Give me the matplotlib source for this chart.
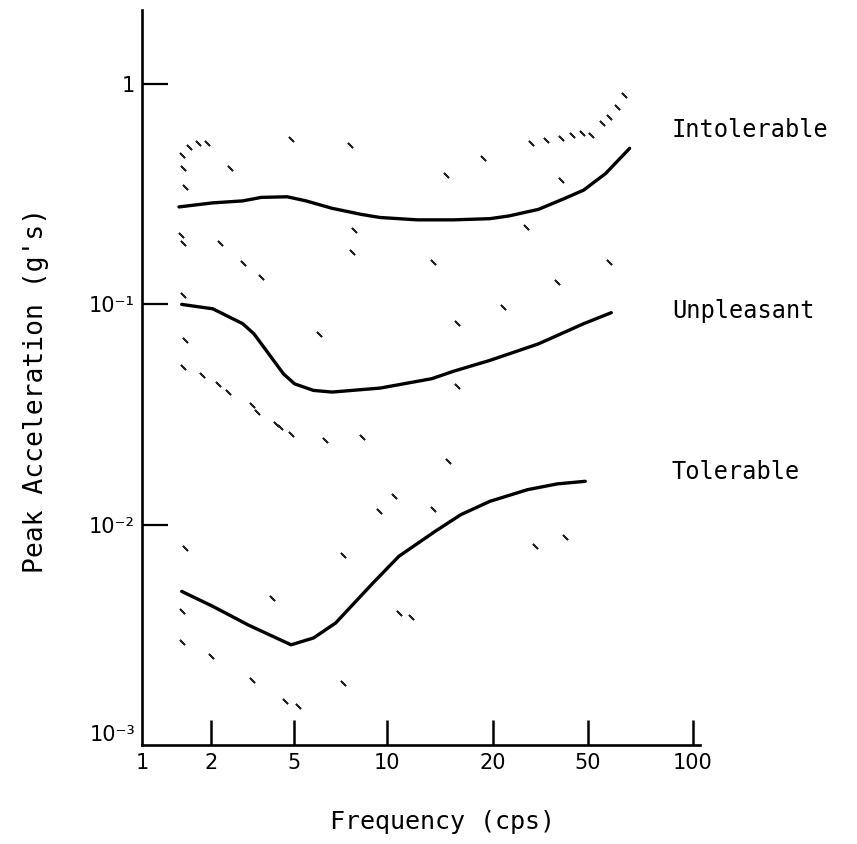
import numpy as np
import matplotlib
matplotlib.use("Agg")
import matplotlib.pyplot as plt
from matplotlib.ticker import FixedLocator, FixedFormatter, NullLocator

# ---------------- data ----------------
x_ticks = [1, 2, 5, 10, 20, 50, 100]
x_tick_labels = ["1", "2", "5", "10", "20", "50", "100"]
y_ticks = [1e-3, 1e-2, 1e-1, 1]
y_tick_labels = ["10\u207b\u00b3", "10\u207b\u00b2", "10\u207b\u00b9", "1"]

# solid curves (frequency cps, peak acceleration g)
intol_f = [1.45, 2.04, 2.84, 3.48, 4.64, 5.47, 6.64, 8.28, 9.5, 12.2, 15.5, 19.6, 23.3, 31, 40, 47.9, 56.2, 65.8]
intol_a = [0.277, 0.289, 0.295, 0.306, 0.308, 0.295, 0.273, 0.256, 0.248, 0.242, 0.242, 0.245, 0.252, 0.270, 0.303, 0.330, 0.393, 0.511]

unpl_f = [1.49, 2.04, 2.84, 3.21, 3.78, 4.45, 5.02, 5.78, 6.64, 9.5, 13.4, 15.5, 19.6, 31, 47.9, 58.3]
unpl_a = [0.100, 0.0955, 0.0817, 0.0736, 0.0597, 0.0484, 0.0436, 0.0407, 0.0400, 0.0417, 0.0460, 0.0498, 0.0557, 0.0662, 0.0817, 0.0917]

tol_f = [1.49, 2.04, 3.01, 4.84, 5.78, 6.82, 9.0, 10.8, 13.7, 16.2, 19.6, 27.9, 37.2, 48.7]
tol_a = [0.00498, 0.00426, 0.00351, 0.00285, 0.00306, 0.00358, 0.00543, 0.00718, 0.00933, 0.0111, 0.01277, 0.01442, 0.01532, 0.01574]

# scattered individual observations
obs_f = [1.50, 1.60, 1.76, 1.93, 1.51, 1.54, 2.46, 4.84, 7.6, 18.7, 14.7,
         28.9, 33.4, 38.6, 43, 47.1, 50.9, 54.8, 57.5, 60.4, 63.4,
         1.48, 1.51, 2.22, 2.84, 3.48, 7.8, 7.7, 13.5, 27.4, 38.6, 57.5,
         1.51, 1.54, 1.51, 1.82, 2.17, 2.41, 3.14, 3.34, 4.1, 4.27, 4.84, 6.28, 8.28,
         6.02, 15.8, 22, 37, 15.8,
         1.54, 1.49, 1.50, 2.0, 3.14, 3.94, 4.55, 5.16, 7.2, 7.2, 9.4, 10.5,
         10.8, 11.7, 13.5, 14.9, 30, 40]
obs_a = [0.477, 0.519, 0.538, 0.538, 0.414, 0.342, 0.414, 0.561, 0.528, 0.460, 0.386,
         0.538, 0.557, 0.567, 0.587, 0.597, 0.587, 0.663, 0.711, 0.789, 0.891,
         0.206, 0.189, 0.189, 0.154, 0.133, 0.217, 0.173, 0.156, 0.225, 0.366, 0.156,
         0.110, 0.0687, 0.052, 0.0477, 0.0437, 0.040, 0.0348, 0.0325, 0.0287, 0.0277, 0.0259, 0.0242, 0.025,
         0.0736, 0.0823, 0.0973, 0.126, 0.0428,
         0.0078, 0.00405, 0.00292, 0.00254, 0.00198, 0.00465, 0.00158, 0.0015, 0.00731, 0.00191, 0.0115, 0.01346,
         0.00397, 0.00381, 0.01178, 0.01936, 0.00803, 0.00877]

curve_names = ["Intolerable", "Unpleasant", "Tolerable"]

# ---------------- hand-drawn (non-uniform) frequency scale ----------------
_knot_log = np.array([-1.0, 0.0, np.log10(2), np.log10(5), 1.0, np.log10(20), np.log10(50), 2.0, 3.0])
_knot_pos = np.array([-88.0, 142.0, 211.0, 294.0, 387.0, 493.0, 588.0, 693.0, 1043.0])

def fwd(x):
    x = np.asarray(x, dtype=float)
    return np.interp(np.log10(np.clip(x, 1e-9, None)), _knot_log, _knot_pos)

def inv(p):
    p = np.asarray(p, dtype=float)
    return 10 ** np.interp(p, _knot_pos, _knot_log)

# ---------------- figure ----------------
W, H = 857, 844
fig = plt.figure(figsize=(W / 100, H / 100), dpi=100)
ax = fig.add_axes([142 / W, 1 - 745 / H, (700 - 142) / W, (745 - 10) / H])
ax.set_xscale("function", functions=(fwd, inv))
ax.set_yscale("log")
ax.set_xlim(1, float(inv(700)))
ax.set_ylim(1e-3, 10 ** ((745 - 10) / 220.3 - 3))

for s in ["top", "right"]:
    ax.spines[s].set_visible(False)
for s in ["left", "bottom"]:
    ax.spines[s].set_linewidth(1.9)

lw = 2.4
ax.plot(intol_f, intol_a, color="black", lw=lw, solid_capstyle="round", solid_joinstyle="round")
ax.plot(unpl_f, unpl_a, color="black", lw=lw, solid_capstyle="round", solid_joinstyle="round")
ax.plot(tol_f, tol_a, color="black", lw=lw, solid_capstyle="round", solid_joinstyle="round")

ax.plot(obs_f, obs_a, linestyle="none", marker=(2, 2, 45), markersize=5,
        markeredgewidth=1.3, color="#222222")

ax.xaxis.set_major_locator(FixedLocator(x_ticks[1:]))
ax.xaxis.set_major_formatter(FixedFormatter(x_tick_labels[1:]))
ax.xaxis.set_minor_locator(NullLocator())
ax.yaxis.set_major_locator(FixedLocator(y_ticks[1:]))
ax.yaxis.set_major_formatter(FixedFormatter(y_tick_labels[1:]))
ax.yaxis.set_minor_locator(NullLocator())

ax.tick_params(axis="x", direction="in", length=18, width=1.8, labelsize=15, pad=6)
ax.tick_params(axis="y", direction="in", length=19, width=1.6, labelsize=15, pad=5)

# corner labels "1" (x) and "10^-3" (y) sit at the axis ends
ax.text(1, -0.011, x_tick_labels[0], transform=ax.get_xaxis_transform(),
        ha="center", va="top", fontsize=15)
ax.text(-0.012, 1e-3, y_tick_labels[0], transform=ax.get_yaxis_transform(),
        ha="right", va="bottom", fontsize=15)

mono = "DejaVu Sans Mono"
fig.text(672 / W, 1 - 130 / H, curve_names[0], family=mono, fontsize=17, ha="left", va="center")
fig.text(672 / W, 1 - 311 / H, curve_names[1], family=mono, fontsize=17, ha="left", va="center")
fig.text(672 / W, 1 - 472 / H, curve_names[2], family=mono, fontsize=17, ha="left", va="center")

fig.text(442 / W, 1 - 822 / H, "Frequency (cps)", family=mono, fontsize=18, ha="center", va="center")
fig.text(36 / W, 1 - 390 / H, "Peak Acceleration (g's)", family=mono, fontsize=19,
         ha="center", va="center", rotation=90)

fig.savefig("out.png", dpi=100, facecolor="white")
